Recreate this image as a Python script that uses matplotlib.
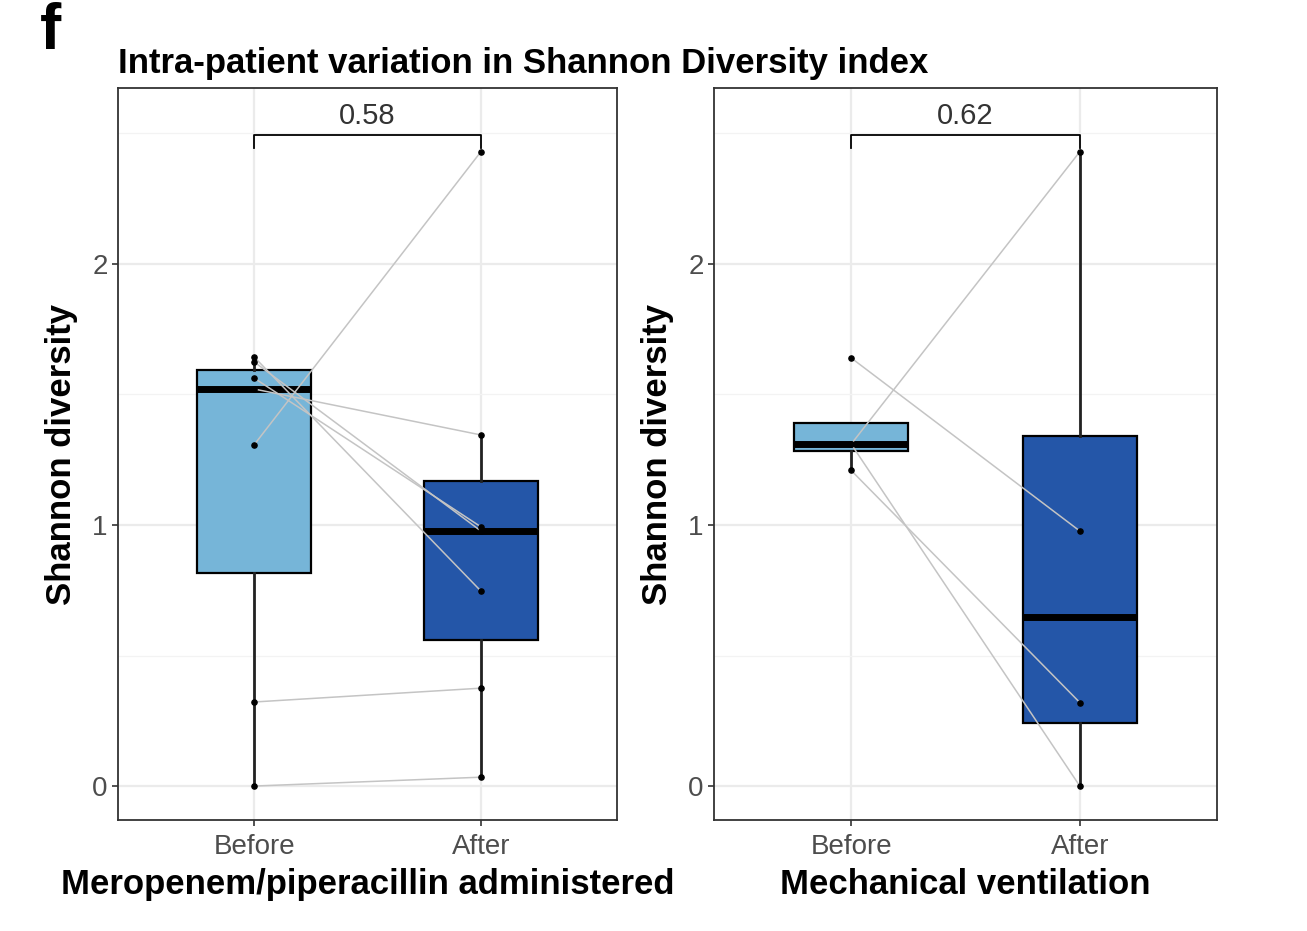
import numpy as np
import matplotlib.pyplot as plt

plt.rcParams['font.family'] = ['Liberation Sans', 'DejaVu Sans']

# values (Shannon diversity, paired before/after)
groups = ["Before", "After"]
mero_before = [0.0, 0.322, 1.307, 1.521, 1.563, 1.625, 1.644]
mero_after = [0.034, 0.375, 2.43, 1.345, 0.993, 0.977, 0.747]
vent_before = [1.64, 1.31, 1.31, 1.209]
vent_after = [0.977, 2.43, 0.0, 0.32]
p_values = ["0.58", "0.62"]
panel_xlabels = ["Meropenem/piperacillin administered", "Mechanical ventilation"]
title = "Intra-patient variation in Shannon Diversity index"

box_colors = ["#76b5d8", "#2456a8"]
W, H = 1307, 931

fig = plt.figure(figsize=(W / 100, H / 100), dpi=100)


def px_axes(x0, y0, x1, y1):
    return fig.add_axes([x0 / W, 1 - y1 / H, (x1 - x0) / W, (y1 - y0) / H])


panels = [
    (px_axes(118, 88, 617, 820), mero_before, mero_after, p_values[0], panel_xlabels[0]),
    (px_axes(714, 88, 1217, 820), vent_before, vent_after, p_values[1], panel_xlabels[1]),
]

for ax, before, after, pval, xlab in panels:
    ax.grid(True, which="major", color="#ebebeb", lw=1.6, zorder=0)
    ax.grid(True, which="minor", axis="y", color="#f3f3f3", lw=0.9, zorder=0)
    ax.set_axisbelow(True)

    bp = ax.boxplot([before, after], positions=[1, 2], widths=0.5, whis=1.5,
                    showfliers=False, showcaps=False, patch_artist=True,
                    zorder=2)
    for patch, c in zip(bp["boxes"], box_colors):
        patch.set_facecolor(c)
        patch.set_edgecolor("black")
        patch.set_linewidth(1.6)
    for w in bp["whiskers"]:
        w.set_color("#222222")
        w.set_linewidth(2.0)
    for m in bp["medians"]:
        m.set_color("black")
        m.set_linewidth(5)
        m.set_solid_capstyle("butt")

    # paired lines per patient
    for b, a in zip(before, after):
        ax.plot([1, 2], [b, a], color="#c4c4c4", lw=1.1, zorder=3)
    ax.scatter(np.ones(len(before)), before, s=14, color="black", zorder=4)
    ax.scatter(np.full(len(after), 2), after, s=14, color="black", zorder=4)

    # significance bracket
    ax.plot([1, 1, 2, 2], [2.444, 2.494, 2.494, 2.444], color="black", lw=1.3,
            zorder=4)
    ax.text(1.5, 2.515, pval, ha="center", va="bottom", fontsize=21,
            color="#333333")

    ax.set_xlim(0.4, 2.6)
    ax.set_ylim(-0.13, 2.674)
    ax.set_yticks([0, 1, 2])
    ax.set_yticks([0.5, 1.5, 2.5], minor=True)
    ax.set_xticks([1, 2])
    ax.set_xticklabels(groups)

    for s in ax.spines.values():
        s.set_color("#333333")
        s.set_linewidth(1.3)
    ax.tick_params(axis="both", which="major", length=4, width=1.2,
                   color="#333333", labelcolor="#4d4d4d", labelsize=20)
    ax.tick_params(axis="x", pad=6)
    ax.tick_params(which="minor", length=0)
    ax.set_ylabel("Shannon diversity", fontsize=25, fontweight="bold", labelpad=10)
    ax.set_xlabel(xlab, fontsize=25, fontweight="bold", labelpad=6)

fig.text(118 / W, 1 - 63 / H, title, fontsize=25, fontweight="bold",
         ha="left", va="center")
fig.text(40 / W, 1 - 2 / H, "f", fontsize=46, fontweight="bold",
         ha="left", va="top")

fig.savefig("out.png", dpi=100)
